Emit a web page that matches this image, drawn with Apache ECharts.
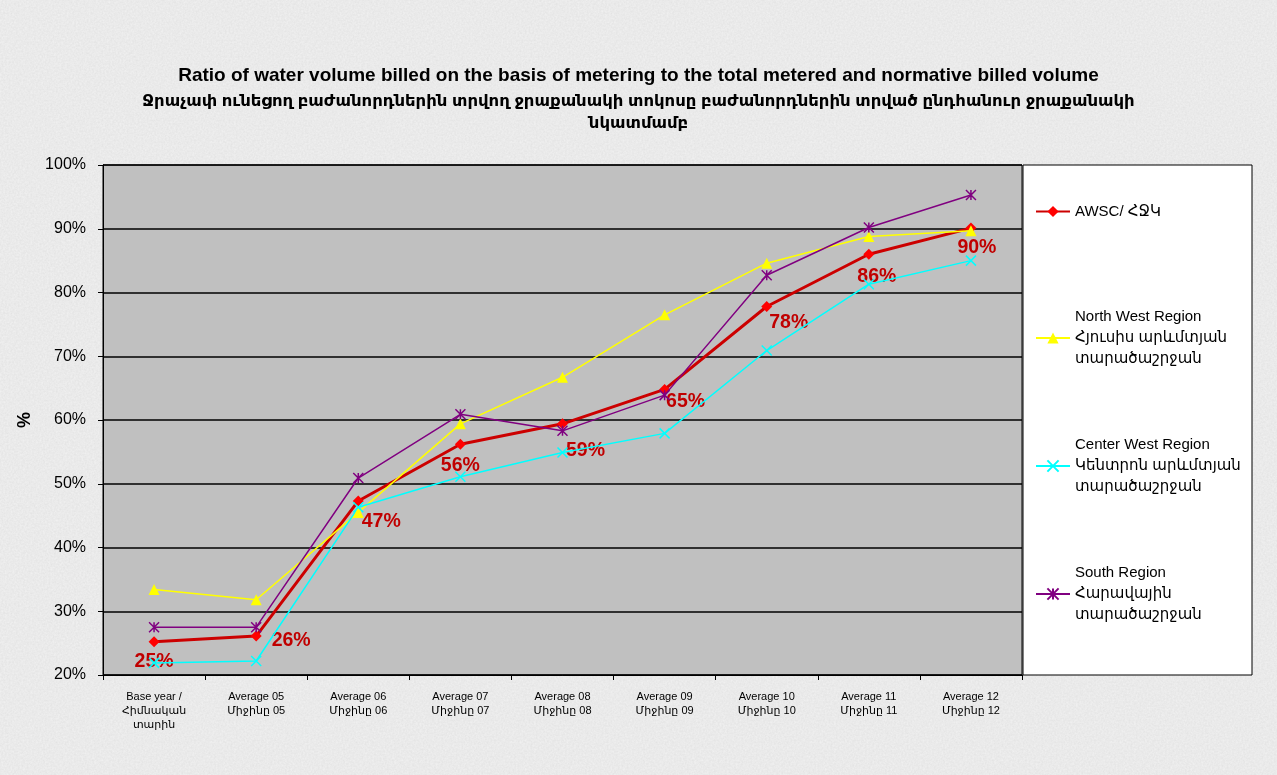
<!DOCTYPE html>
<html><head><meta charset="utf-8">
<script src="https://cdn.jsdelivr.net/npm/echarts@6/dist/echarts.min.js"></script>
<style>
html,body{margin:0;padding:0;}
body{background-color:#ececec;background-image:url("data:image/svg+xml;utf8,<svg xmlns='http://www.w3.org/2000/svg' width='300' height='300'><filter id='n'><feTurbulence type='fractalNoise' baseFrequency='0.55' numOctaves='3' stitchTiles='stitch'/><feColorMatrix values='0 0 0 0 0.55  0 0 0 0 0.55  0 0 0 0 0.55  0 0 0 0.35 0'/></filter><rect width='300' height='300' fill='%23f2f2f2'/><rect width='300' height='300' filter='url(%23n)'/></svg>");}
#c{width:1277px;height:775px;}
</style>
</head><body><div id="c"></div>
<script>
const categories = ['Base year /\nՀիմնական\nտարին','Average 05\nՄիջինը 05','Average 06\nՄիջինը 06','Average 07\nՄիջինը 07','Average 08\nՄիջինը 08','Average 09\nՄիջինը 09','Average 10\nՄիջինը 10','Average 11\nՄիջինը 11','Average 12\nՄիջինը 12'];
const awsc = [25.2, 26.1, 47.3, 56.2, 59.4, 64.8, 77.8, 86.0, 90.1];
const northWest = [33.4, 31.8, 45.5, 59.4, 66.7, 76.5, 84.6, 88.8, 89.7];
const centerWest = [21.9, 22.2, 46.3, 51.1, 54.9, 57.9, 70.9, 81.3, 85.0];
const south = [27.5, 27.5, 50.9, 60.9, 58.3, 63.9, 82.7, 90.2, 95.3];
const yTicks = {min: 20, max: 100, interval: 10};
const seriesNames = ['AWSC/ ՀՋԿ','North West Region\nՀյուսիս արևմտյան\nտարածաշրջան','Center West Region\nԿենտրոն արևմտյան\nտարածաշրջան','South Region\nՀարավային\nտարածաշրջան'];
const titleEn = 'Ratio of water volume billed on the basis of metering to the total metered and normative billed volume';
const titleHy = 'Ջրաչափ ունեցող բաժանորդներին տրվող ջրաքանակի տոկոսը բաժանորդներին տրված ընդհանուր ջրաքանակի\nնկատմամբ';

// label placement offsets for AWSC data labels (presentation only)
const labelOffsets = [[0,20],[35,5],[23,21],[0,21],[23,27],[21,12],[22,16],[8,22],[6,20]];

const FONT = '"Liberation Sans", Arial, "DejaVu Sans", sans-serif';
const chart = echarts.init(document.getElementById('c'), null, {renderer:'canvas'});

const legendTops = [201, 285.5, 413.5, 541.5];
const legends = seriesNames.map((n,i)=>({
  data:[n], left:1035, top: legendTops[i], padding:0, orient:'vertical',
  itemWidth:34, itemHeight:14, itemGap:0, selectedMode:false,
  textStyle:{fontFamily:FONT, fontSize:15, color:'#000', lineHeight:21, padding: i===0?[0,0,0,0]:[42,0,0,0]}
}));

const xShape = 'path://M0,0L10,10M10,0L0,10';
const starShape = 'path://M0,0L10,10M10,0L0,10M5,0L5,10';

chart.setOption({
  animation:false,
  backgroundColor:'transparent',
  title:[
    {text:titleEn, left:'center', top:64, padding:0, textStyle:{fontFamily:FONT, fontSize:19, fontWeight:'bold', color:'#000', lineHeight:24}},
    {text:titleHy, left:'center', top:90, padding:0, textStyle:{fontFamily:FONT, fontSize:16.5, fontWeight:'bold', color:'#000', lineHeight:22}}
  ],
  graphic:[{type:'rect', shape:{x:1023, y:165, width:229, height:510}, style:{fill:'#fff', stroke:'#000', lineWidth:1}, z:-1}],
  legend: legends,
  grid:{left:103, top:165, width:919, height:510, show:true, backgroundColor:'#c0c0c0', borderColor:'#000', borderWidth:1},
  xAxis:{type:'category', data:categories, boundaryGap:true,
    axisLine:{lineStyle:{color:'#000'}}, axisTick:{show:true, length:5, lineStyle:{color:'#000'}},
    axisLabel:{interval:0, fontFamily:FONT, fontSize:11, color:'#000', lineHeight:14, margin:15}},
  yAxis:{type:'value', min:yTicks.min, max:yTicks.max, interval:yTicks.interval,
    name:'%', nameLocation:'middle', nameGap:66, nameRotate:90,
    nameTextStyle:{fontFamily:FONT, fontSize:18, fontWeight:'bold', color:'#000'},
    axisLine:{show:true, lineStyle:{color:'#000'}}, axisTick:{show:true, length:5, lineStyle:{color:'#000'}},
    axisLabel:{formatter:'{value}%', fontFamily:FONT, fontSize:16, color:'#000', margin:17},
    splitLine:{lineStyle:{color:'#000', width:1.5}}},
  series:[
    {name:seriesNames[0], type:'line', data:awsc.map((v,i)=>({value:v, label:{offset:labelOffsets[i]}})), z:3,
      symbol:'diamond', symbolSize:11, lineStyle:{color:'#cc0000', width:3}, itemStyle:{color:'#ff0000'},
      label:{show:true, position:'inside', formatter:p=>Math.round(p.value)+'%', fontFamily:FONT, fontSize:19.5, fontWeight:'bold', color:'#c00000'}},
    {name:seriesNames[1], type:'line', data:northWest, z:4, symbol:'triangle', symbolSize:11,
      lineStyle:{color:'#ffff00', width:1.5}, itemStyle:{color:'#ffff00'}},
    {name:seriesNames[2], type:'line', data:centerWest, z:4, symbol:xShape, symbolSize:10,
      lineStyle:{color:'#00ffff', width:1.5}, itemStyle:{color:'#00ffff', borderColor:'#00ffff', borderWidth:1.5}},
    {name:seriesNames[3], type:'line', data:south, z:4, symbol:starShape, symbolSize:10,
      lineStyle:{color:'#800080', width:1.5}, itemStyle:{color:'#800080', borderColor:'#800080', borderWidth:1.5}}
  ]
});
</script></body></html>
